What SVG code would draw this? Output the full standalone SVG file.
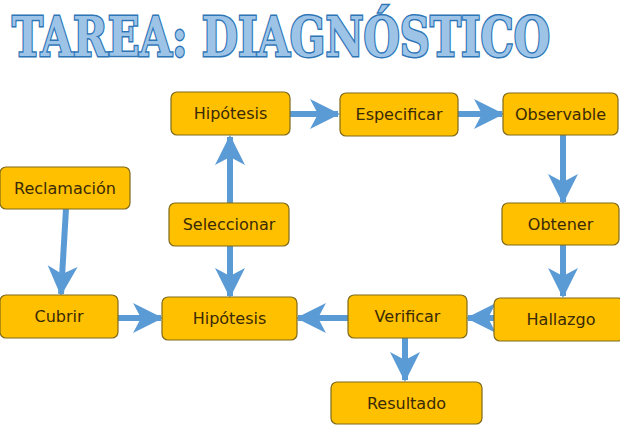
<svg xmlns="http://www.w3.org/2000/svg" width="620" height="437" viewBox="0 0 620 437">
<style>
.node rect{fill:#FFC000;stroke:#7F6A1A;stroke-width:1.2}
.node text{font-family:"DejaVu Sans",sans-serif;font-size:16px;fill:#3A2A05;text-anchor:middle;dominant-baseline:central}
.conn path{stroke:#5B9BD5;stroke-width:6;fill:none;marker-end:url(#ah)}
.title{font-family:"DejaVu Serif",serif;font-weight:bold;font-size:55px;fill:#9DC3E6;stroke:#2E75B6;stroke-width:3;paint-order:stroke}
</style>
<defs>
<marker id="ah" markerUnits="userSpaceOnUse" markerWidth="30" markerHeight="30" refX="28" refY="15" orient="auto" overflow="visible">
<path d="M0,0 L30,15 L0,30 L8,15 z" fill="#5B9BD5"/>
</marker>
</defs>
<rect width="620" height="437" fill="#FFFFFF"/>
<text class="title" transform="translate(12,56) scale(0.73,1)" x="0" y="0" textLength="737" lengthAdjust="spacingAndGlyphs">TAREA: DIAGNÓSTICO</text>
<g class="conn">
<path d="M290,114 L338,114"/>
<path d="M458,114 L502,114"/>
<path d="M563,135 L563,202"/>
<path d="M563,245 L563,296"/>
<path d="M494,318 L468,318"/>
<path d="M348,318 L298,318"/>
<path d="M405,338 L405,380"/>
<path d="M118,318 L161,318"/>
<path d="M66,209 L61,294"/>
<path d="M230,203 L230,137"/>
<path d="M230,246 L230,296"/>
</g>
<g id="hip1" class="node"><rect x="171" y="92" width="119" height="43" rx="6"/><text x="230.5" y="113.5">Hipótesis</text></g>
<g id="esp" class="node"><rect x="340" y="93" width="118" height="43" rx="6"/><text x="399" y="114.5">Especificar</text></g>
<g id="obs" class="node"><rect x="503" y="93" width="115" height="42" rx="6"/><text x="560.5" y="114">Observable</text></g>
<g id="recl" class="node"><rect x="0" y="167" width="130" height="42" rx="6"/><text x="65" y="188">Reclamación</text></g>
<g id="sel" class="node"><rect x="169" y="203" width="120" height="43" rx="6"/><text x="229" y="224.5">Seleccionar</text></g>
<g id="obt" class="node"><rect x="502" y="203" width="117" height="42" rx="6"/><text x="560.5" y="224">Obtener</text></g>
<g id="cub" class="node"><rect x="0" y="295" width="118" height="43" rx="6"/><text x="59" y="316.5">Cubrir</text></g>
<g id="hip2" class="node"><rect x="162" y="297" width="135" height="43" rx="6"/><text x="229.5" y="318.5">Hipótesis</text></g>
<g id="ver" class="node"><rect x="348" y="295" width="119" height="43" rx="6"/><text x="407.5" y="316.5">Verificar</text></g>
<g id="hall" class="node"><rect x="494" y="298" width="130" height="43" rx="6"/><text x="561" y="319.5">Hallazgo</text></g>
<g id="res" class="node"><rect x="331" y="382" width="151" height="42" rx="6"/><text x="406.5" y="403">Resultado</text></g>
</svg>
